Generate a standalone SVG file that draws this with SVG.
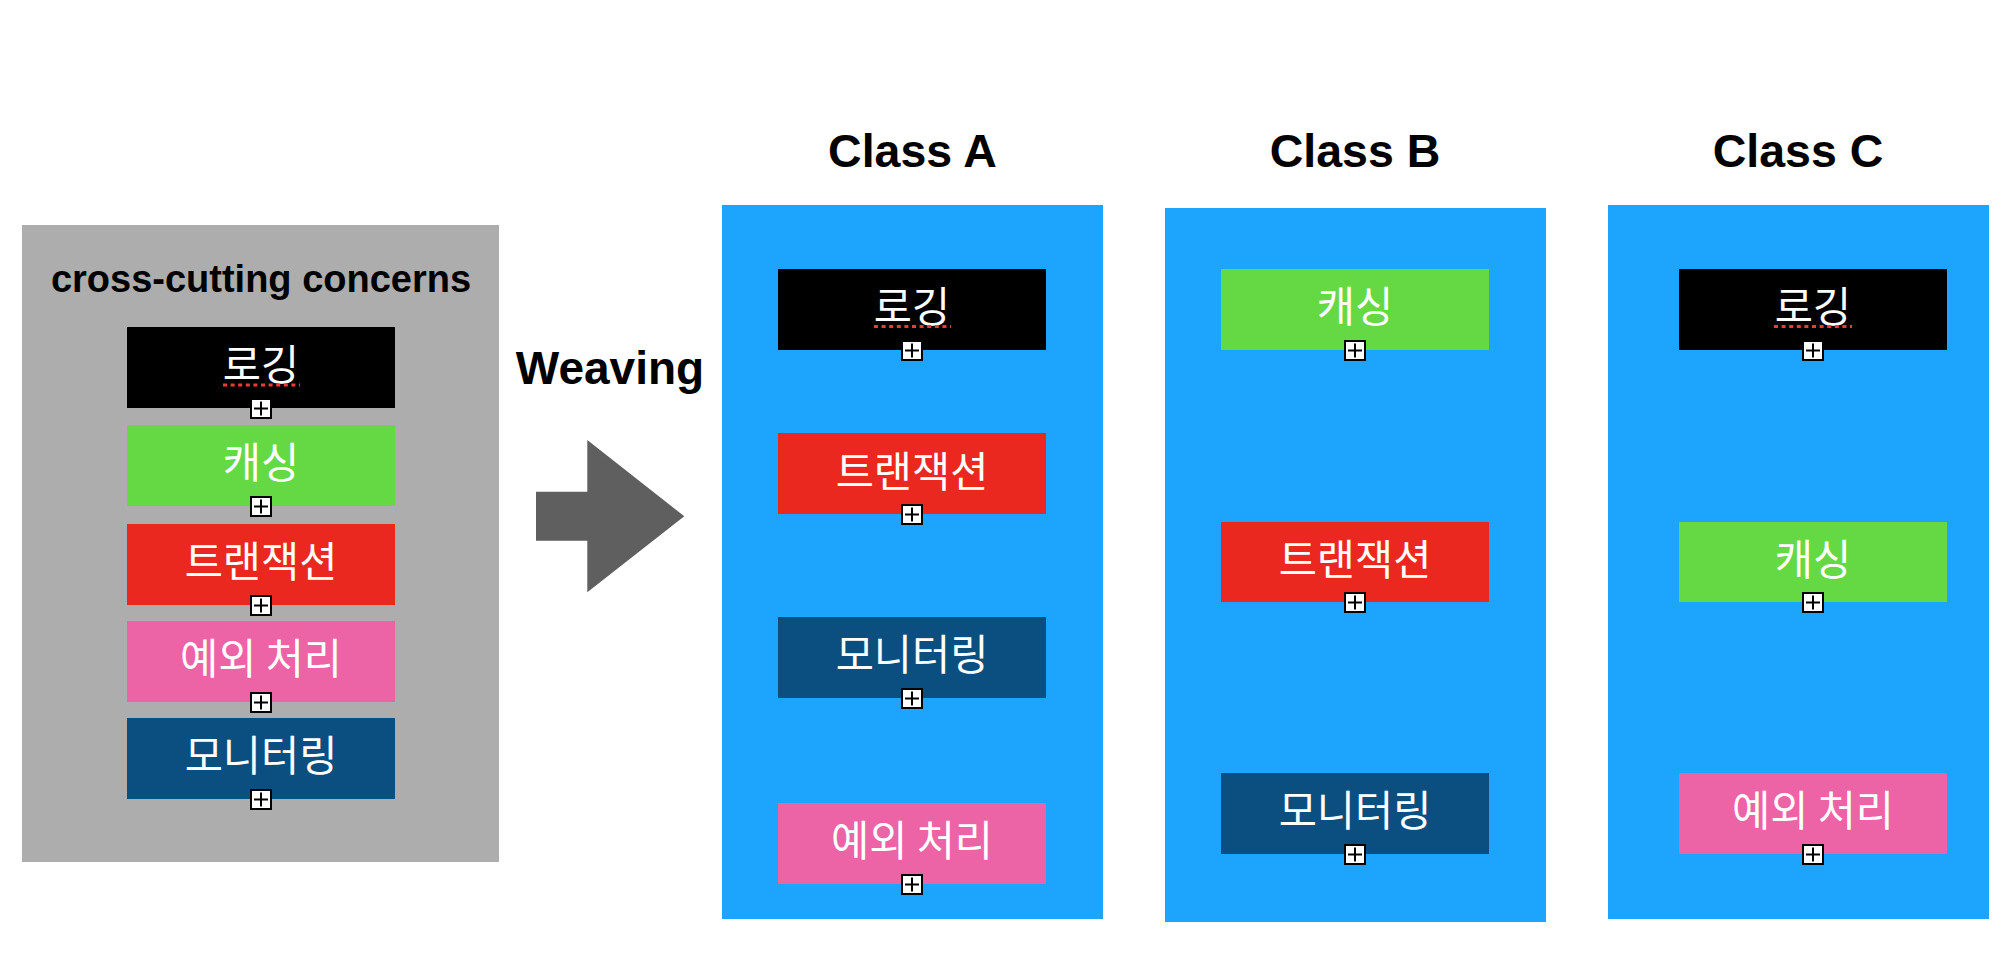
<svg xmlns="http://www.w3.org/2000/svg" xmlns:xlink="http://www.w3.org/1999/xlink" width="2016" height="958" viewBox="0 0 2016 958">
  <style>
    .title { font-family: "Liberation Sans", Arial, Helvetica, sans-serif; font-weight: bold; fill: #000; text-anchor: middle; }
    .lbl { font-family: "Noto Sans CJK KR", "Noto Sans", sans-serif; font-size: 41.5px; fill: #fff; text-anchor: middle; }
    .panel { fill: #1da5fe; }
    .black { fill: #000000; }
    .green { fill: #65d944; }
    .red { fill: #eb2820; }
    .pink { fill: #ec63a6; }
    .navy { fill: #0a4f80; }
    .spell { stroke: #f03a3a; stroke-width: 3; stroke-dasharray: 4 3.6; fill: none; }
  </style>
  <defs>
    <g id="plus">
      <rect x="-10" y="-9" width="20" height="19" fill="#fff" stroke="#000" stroke-width="2"/>
      <path d="M-7 0.5 H7 M0 -6.5 V7.5" stroke="#000" stroke-width="2" fill="none"/>
    </g>
  </defs>

  <rect width="2016" height="958" fill="#fff"/>

  <!-- Left panel: cross-cutting concerns -->
  <g id="concerns-panel">
    <rect x="22" y="225" width="477" height="637" fill="#adadad"/>
    <text class="title" x="261" y="292" font-size="38">cross-cutting concerns</text>
  </g>
  <g id="cc-logging">
    <rect class="black" x="127" y="327" width="268" height="81"/>
    <text class="lbl" x="261" y="380">로깅</text>
    <line class="spell" x1="223" y1="385" x2="300" y2="385"/>
    <use xlink:href="#plus" x="261" y="408"/>
  </g>
  <g id="cc-caching">
    <rect class="green" x="127" y="425" width="268" height="81"/>
    <text class="lbl" x="261" y="478">캐싱</text>
    <use xlink:href="#plus" x="261" y="506"/>
  </g>
  <g id="cc-transaction">
    <rect class="red" x="127" y="524" width="268" height="81"/>
    <text class="lbl" x="261" y="577">트랜잭션</text>
    <use xlink:href="#plus" x="261" y="605"/>
  </g>
  <g id="cc-exception">
    <rect class="pink" x="127" y="621" width="268" height="81"/>
    <text class="lbl" x="261" y="674">예외 처리</text>
    <use xlink:href="#plus" x="261" y="702"/>
  </g>
  <g id="cc-monitoring">
    <rect class="navy" x="127" y="718" width="268" height="81"/>
    <text class="lbl" x="261" y="771">모니터링</text>
    <use xlink:href="#plus" x="261" y="799"/>
  </g>

  <!-- Weaving arrow -->
  <g id="connectors">
    <text class="title" x="610" y="384" font-size="46">Weaving</text>
    <polygon points="536,491.7 587.3,491.7 587.3,440 684.3,516.3 587.3,592.3 587.3,540.7 536,540.7" fill="#5f5f5f"/>
  </g>

  <!-- Class A -->
  <g id="class-a">
    <text class="title" x="912.5" y="166.5" font-size="46.5">Class A</text>
    <rect class="panel" x="722" y="205" width="381" height="714"/>
  </g>
  <g id="a-logging">
    <rect class="black" x="778" y="269" width="268" height="81"/>
    <text class="lbl" x="912" y="322">로깅</text>
    <line class="spell" x1="874" y1="326.5" x2="951" y2="326.5"/>
    <use xlink:href="#plus" x="912" y="350"/>
  </g>
  <g id="a-transaction">
    <rect class="red" x="778" y="433" width="268" height="81"/>
    <text class="lbl" x="912" y="486.5">트랜잭션</text>
    <use xlink:href="#plus" x="912" y="514"/>
  </g>
  <g id="a-monitoring">
    <rect class="navy" x="778" y="617" width="268" height="81"/>
    <text class="lbl" x="912" y="670">모니터링</text>
    <use xlink:href="#plus" x="912" y="698"/>
  </g>
  <g id="a-exception">
    <rect class="pink" x="778" y="803" width="268" height="81"/>
    <text class="lbl" x="912" y="856">예외 처리</text>
    <use xlink:href="#plus" x="912" y="884"/>
  </g>

  <!-- Class B -->
  <g id="class-b">
    <text class="title" x="1355" y="166.5" font-size="46.5">Class B</text>
    <rect class="panel" x="1165" y="208" width="381" height="714"/>
  </g>
  <g id="b-caching">
    <rect class="green" x="1221" y="269" width="268" height="81"/>
    <text class="lbl" x="1355" y="322">캐싱</text>
    <use xlink:href="#plus" x="1355" y="350"/>
  </g>
  <g id="b-transaction">
    <rect class="red" x="1221" y="522" width="268" height="80"/>
    <text class="lbl" x="1355" y="575">트랜잭션</text>
    <use xlink:href="#plus" x="1355" y="602"/>
  </g>
  <g id="b-monitoring">
    <rect class="navy" x="1221" y="773" width="268" height="81"/>
    <text class="lbl" x="1355" y="826">모니터링</text>
    <use xlink:href="#plus" x="1355" y="854"/>
  </g>

  <!-- Class C -->
  <g id="class-c">
    <text class="title" x="1798" y="166.5" font-size="46.5">Class C</text>
    <rect class="panel" x="1608" y="205" width="381" height="714"/>
  </g>
  <g id="c-logging">
    <rect class="black" x="1679" y="269" width="268" height="81"/>
    <text class="lbl" x="1813" y="322">로깅</text>
    <line class="spell" x1="1774" y1="326.5" x2="1852" y2="326.5"/>
    <use xlink:href="#plus" x="1813" y="350"/>
  </g>
  <g id="c-caching">
    <rect class="green" x="1679" y="522" width="268" height="80"/>
    <text class="lbl" x="1813" y="575">캐싱</text>
    <use xlink:href="#plus" x="1813" y="602"/>
  </g>
  <g id="c-exception">
    <rect class="pink" x="1679" y="773" width="268" height="81"/>
    <text class="lbl" x="1813" y="826">예외 처리</text>
    <use xlink:href="#plus" x="1813" y="854"/>
  </g>
</svg>
